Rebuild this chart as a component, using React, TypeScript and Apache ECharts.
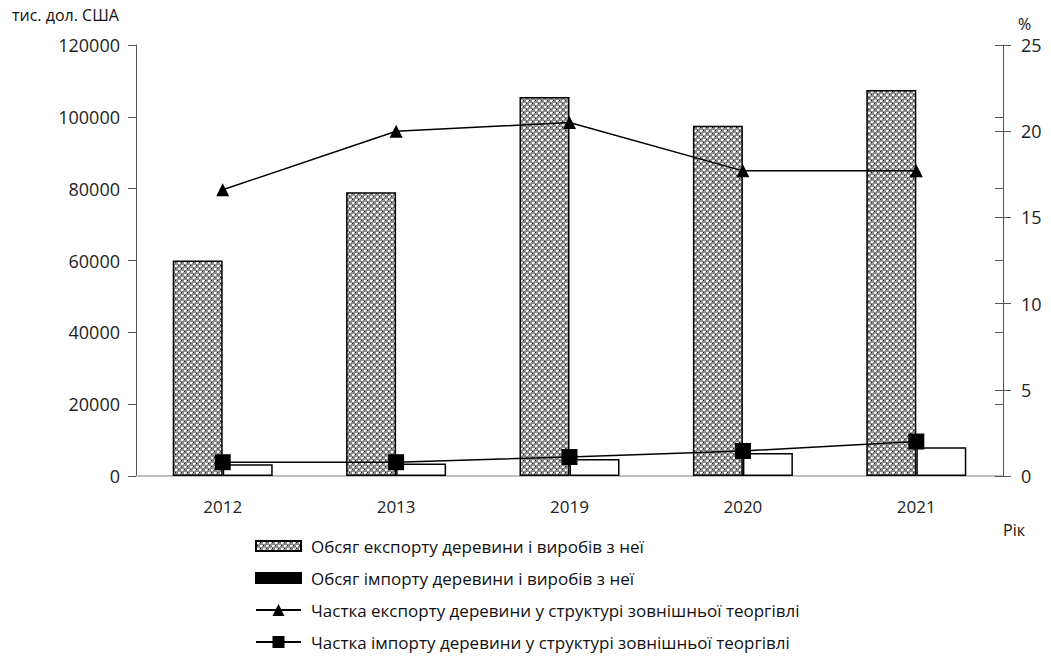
import React, { useEffect, useRef } from "react";
import * as echarts from "echarts";

const years = ["2012", "2013", "2019", "2020", "2021"];
const exportVolume = [60000, 79000, 105500, 97500, 107500];
const importVolume = [3300, 3500, 4700, 6400, 8000];
const exportShare = [16.6, 20.0, 20.5, 17.7, 17.7];
const importShare = [0.8, 0.8, 1.1, 1.45, 2.0];

const names = [
  "Обсяг експорту деревини і виробів з неї",
  "Обсяг імпорту деревини і виробів з неї",
  "Частка експорту деревини у структурі зовнішньої теоргівлі",
  "Частка імпорту деревини у структурі зовнішньої теоргівлі",
];

function makePattern(): string {
  const c = document.createElement("canvas");
  c.width = 6;
  c.height = 6;
  const ctx = c.getContext("2d")!;
  ctx.fillStyle = "#8c8c8c";
  ctx.fillRect(0, 0, 6, 6);
  ctx.fillStyle = "#ffffff";
  ctx.fillRect(1, 1, 2, 2);
  ctx.fillRect(4, 4, 2, 2);
  ctx.fillStyle = "#e0e0e0";
  ctx.fillRect(0, 4, 1, 1);
  ctx.fillRect(3, 1, 1, 1);
  ctx.fillStyle = "#1a1a1a";
  ctx.fillRect(4, 1, 1, 1);
  ctx.fillRect(1, 4, 1, 1);
  return c.toDataURL();
}

const FONT = "Open Sans";

export default function App() {
  const ref = useRef<HTMLDivElement>(null);
  useEffect(() => {
    if (!ref.current) return;
    const chart = echarts.init(ref.current, undefined, { renderer: "svg" });
    const pattern = { image: makePattern(), repeat: "repeat" };
    const axisLineStyle = { color: "#555", width: 1 };
    const legendText = { fontFamily: FONT, fontSize: 17, color: "#111", lineHeight: 20, padding: [0, 0, 0, 5] };
    chart.setOption({
      animation: false,
      backgroundColor: "#fff",
      grid: { left: 136, right: 48, top: 45, bottom: 181 },
      xAxis: {
        type: "category",
        data: years,
        axisLine: { lineStyle: { color: "#aaa", width: 1.5 } },
        axisTick: { show: false },
        axisLabel: { fontFamily: FONT, fontSize: 17, color: "#222", margin: 22 },
      },
      yAxis: [
        {
          type: "value",
          min: 0,
          max: 120000,
          interval: 20000,
          axisLine: { show: true, lineStyle: axisLineStyle },
          axisTick: { show: true, length: 8, lineStyle: axisLineStyle },
          splitLine: { show: false },
          axisLabel: { fontFamily: FONT, fontSize: 18, color: "#222", margin: 16, formatter: (v: number) => String(v) },
        },
        {
          type: "value",
          min: 0,
          max: 25,
          interval: 5,
          position: "right",
          axisLine: { show: true, lineStyle: axisLineStyle },
          axisTick: { show: true, length: 8, lineStyle: axisLineStyle },
          splitLine: { show: false },
          axisLabel: { fontFamily: FONT, fontSize: 18, color: "#222", margin: 18 },
        },
        {
          type: "value",
          min: 0,
          max: 120000,
          interval: 20000,
          axisLine: { show: false },
          axisTick: { show: true, inside: true, length: 8, lineStyle: axisLineStyle },
          splitLine: { show: false },
          axisLabel: { show: false },
        },
        {
          type: "value",
          min: 0,
          max: 25,
          interval: 5,
          position: "right",
          axisLine: { show: false },
          axisTick: { show: true, inside: true, length: 8, lineStyle: axisLineStyle },
          splitLine: { show: false },
          axisLabel: { show: false },
        },
      ],
      legend: [
        {
          orient: "vertical",
          left: 255,
          top: 536,
          padding: 0,
          itemWidth: 45,
          itemHeight: 10,
          itemGap: 12,
          textStyle: legendText,
          data: [
            { name: names[0], icon: "rect" },
            { name: names[1], icon: "rect", itemStyle: { color: "#000", borderColor: "#000" } },
          ],
        },
        {
          orient: "vertical",
          left: 255,
          top: 600,
          padding: 0,
          itemWidth: 45,
          itemHeight: 15,
          itemGap: 12,
          textStyle: legendText,
          data: [{ name: names[2] }, { name: names[3] }],
        },
      ],
      graphic: [
        { type: "text", left: 12, top: 7, style: { text: "тис. дол. США", fontFamily: FONT, fontSize: 16, fill: "#111" } },
        { type: "text", left: 1018, top: 16, style: { text: "%", fontFamily: FONT, fontSize: 16, lineHeight: 16, fill: "#111" } },
        { type: "text", left: 1003, top: 522, style: { text: "Рік", fontFamily: FONT, fontSize: 16, fill: "#111" } },
      ],
      series: [
        {
          name: names[0],
          type: "bar",
          data: exportVolume,
          barWidth: 50,
          barGap: "0%",
          itemStyle: { color: pattern, borderColor: "#000", borderWidth: 1.5 },
        },
        {
          name: names[1],
          type: "bar",
          data: importVolume,
          barWidth: 50,
          barGap: "0%",
          itemStyle: { color: "#fff", borderColor: "#000", borderWidth: 1.5 },
        },
        {
          name: names[2],
          type: "line",
          yAxisIndex: 1,
          data: exportShare,
          symbol: "triangle",
          symbolSize: 13,
          lineStyle: { color: "#000", width: 1.5 },
          itemStyle: { color: "#000" },
        },
        {
          name: names[3],
          type: "line",
          yAxisIndex: 1,
          data: importShare,
          symbol: "rect",
          symbolSize: 16,
          lineStyle: { color: "#000", width: 1.5 },
          itemStyle: { color: "#000" },
        },
      ],
    });
    return () => chart.dispose();
  }, []);
  return <div ref={ref} style={{ width: 1051, height: 657, position: "absolute", left: 0, top: 0 }} />;
}
